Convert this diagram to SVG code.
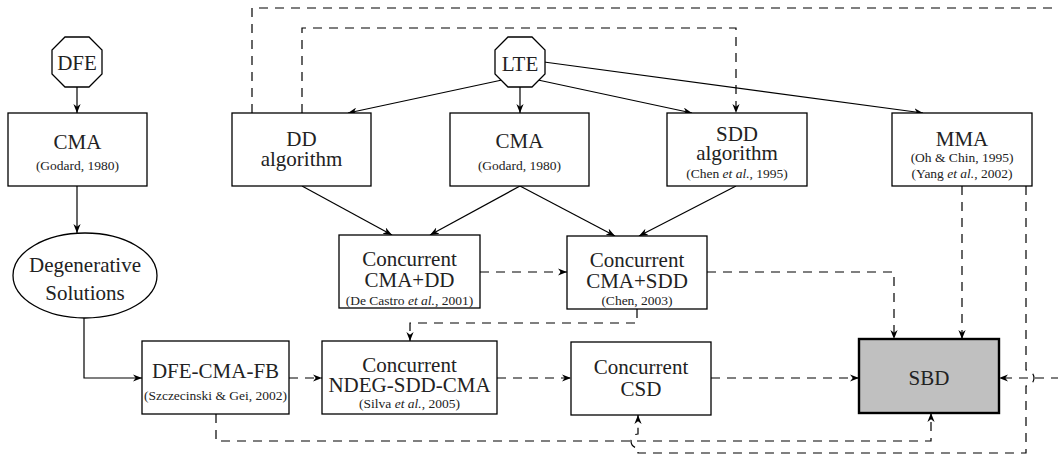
<svg xmlns="http://www.w3.org/2000/svg" width="1058" height="460" viewBox="0 0 1058 460" font-family="'Liberation Serif', 'Times New Roman', 'DejaVu Serif', serif">
<style>
.box{fill:#fff;stroke:#000;stroke-width:1.3}
.sbd{fill:#c0c0c0;stroke:#000;stroke-width:2.4}
.t{font-family:'Liberation Serif','Times New Roman','DejaVu Serif',serif;fill:#222;text-anchor:middle}
.m{font-size:21px}
.s{font-size:13.5px}
.i{font-style:italic}
.c{fill:none;stroke:#000;stroke-width:1.2}
.d{stroke-dasharray:9 7}
</style>
<defs>
<marker id="ah" viewBox="0 0 10 8" refX="10" refY="4" markerWidth="9" markerHeight="7.2" orient="auto" markerUnits="userSpaceOnUse">
<path d="M0,0 L10,4 L0,8 L3,4 z" fill="#000"/>
</marker>
</defs>
<rect width="1058" height="460" fill="#fff"/>
<g id="connectors">
<path class="c" d="M77,87 V113" marker-end="url(#ah)"/>
<path class="c" d="M77,186 V233" marker-end="url(#ah)"/>
<path class="c" d="M84,318 V378 H142" marker-end="url(#ah)"/>
<path class="c" d="M502,80 L348,113" marker-end="url(#ah)"/>
<path class="c" d="M520,87 V113" marker-end="url(#ah)"/>
<path class="c" d="M538,80 L692,113" marker-end="url(#ah)"/>
<path class="c" d="M544,62 L923,113" marker-end="url(#ah)"/>
<path class="c" d="M302,186 L392,235" marker-end="url(#ah)"/>
<path class="c" d="M520,186 L430,235" marker-end="url(#ah)"/>
<path class="c" d="M520,186 L615,236" marker-end="url(#ah)"/>
<path class="c" d="M736,186 L639,236" marker-end="url(#ah)"/>
<path class="c d" d="M289,378 H322" marker-end="url(#ah)"/>
<path class="c d" d="M497,378 H571" marker-end="url(#ah)"/>
<path class="c d" d="M711,378 H859" marker-end="url(#ah)"/>
<path class="c d" d="M480,272 H567" marker-end="url(#ah)"/>
<path class="c d" d="M707,272 H894 V339" marker-end="url(#ah)"/>
<path class="c d" d="M637,309 V323 H410 V341" marker-end="url(#ah)"/>
<path class="c d" d="M962,186 V339" marker-end="url(#ah)"/>
<path class="c d" d="M1026,186 V370 a8,8 0 0 1 0,16 V453 H638 V448 a7,7 0 0 1 0,-14 V415" marker-end="url(#ah)"/>
<path class="c d" d="M216,414 V441 H931 V413" marker-end="url(#ah)"/>
<path class="c d" d="M302,113 V28 H736 V113" marker-end="url(#ah)"/>
<path class="c d" d="M252,113 V8 H1060"/>
<path class="c d" d="M1060,378 H999" marker-end="url(#ah)"/>
</g>
<g id="dfe">
<polygon class="box" points="65,37 89,37 102,50 102,74 89,87 65,87 52,74 52,50"/>
<text class="t m" x="77" y="70">DFE</text>
</g>
<g id="lte">
<polygon class="box" points="508,37 532,37 545,50 545,74 532,87 508,87 495,74 495,50"/>
<text class="t m" x="520" y="71">LTE</text>
</g>
<g id="cma-left">
<rect class="box" x="8" y="113" width="139" height="73"/>
<text class="t m" x="77.5" y="149">CMA</text>
<text class="t s" x="77.5" y="170">(Godard, 1980)</text>
</g>
<g id="dd">
<rect class="box" x="232" y="113" width="139" height="73"/>
<text class="t m" x="301.5" y="146">DD</text>
<text class="t m" x="301.5" y="166">algorithm</text>
</g>
<g id="cma-mid">
<rect class="box" x="450" y="113" width="139" height="73"/>
<text class="t m" x="519.5" y="148">CMA</text>
<text class="t s" x="519.5" y="170">(Godard, 1980)</text>
</g>
<g id="sdd">
<rect class="box" x="667" y="113" width="140" height="73"/>
<text class="t m" x="737" y="141">SDD</text>
<text class="t m" x="737" y="160">algorithm</text>
<text class="t s" x="737" y="177.5">(Chen <tspan class="i">et al.</tspan>, 1995)</text>
</g>
<g id="mma">
<rect class="box" x="892" y="113" width="140" height="73"/>
<text class="t m" x="962" y="146">MMA</text>
<text class="t s" x="962" y="162">(Oh &amp; Chin, 1995)</text>
<text class="t s" x="962" y="178">(Yang <tspan class="i">et al.</tspan>, 2002)</text>
</g>
<g id="degenerative">
<ellipse class="box" cx="85" cy="275.5" rx="72" ry="42.5"/>
<text class="t m" x="85" y="271.5">Degenerative</text>
<text class="t m" x="85" y="300">Solutions</text>
</g>
<g id="cma-dd">
<rect class="box" x="339" y="235" width="141" height="73"/>
<text class="t m" x="409.5" y="266">Concurrent</text>
<text class="t m" x="409.5" y="287">CMA+DD</text>
<text class="t s" x="409.5" y="305">(De Castro <tspan class="i">et al.</tspan>, 2001)</text>
</g>
<g id="cma-sdd">
<rect class="box" x="567" y="236" width="140" height="73"/>
<text class="t m" x="637" y="267">Concurrent</text>
<text class="t m" x="637" y="288">CMA+SDD</text>
<text class="t s" x="637" y="305">(Chen, 2003)</text>
</g>
<g id="dfe-cma-fb">
<rect class="box" x="142" y="341" width="147" height="73"/>
<text class="t m" x="215.5" y="378">DFE-CMA-FB</text>
<text class="t s" x="215.5" y="400">(Szczecinski &amp; Gei, 2002)</text>
</g>
<g id="ndeg">
<rect class="box" x="322" y="341" width="175" height="73"/>
<text class="t m" x="409.5" y="372">Concurrent</text>
<text class="t m" x="409.5" y="392">NDEG-SDD-CMA</text>
<text class="t s" x="409.5" y="407.5">(Silva <tspan class="i">et al.</tspan>, 2005)</text>
</g>
<g id="csd">
<rect class="box" x="571" y="342" width="140" height="73"/>
<text class="t m" x="641" y="374">Concurrent</text>
<text class="t m" x="641" y="395.5">CSD</text>
</g>
<g id="sbd">
<rect class="sbd" x="859" y="339" width="140" height="74"/>
<text class="t m" x="929" y="385">SBD</text>
</g>
</svg>
